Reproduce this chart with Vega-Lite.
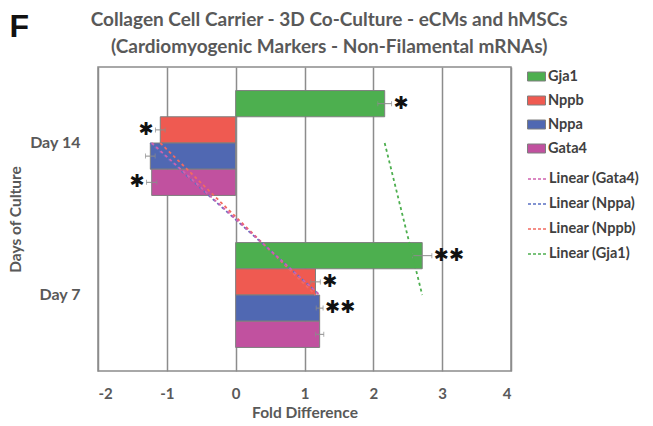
{
  "$schema": "https://vega.github.io/schema/vega-lite/v6.json",
  "width": 413,
  "height": 304,
  "autosize": {"type": "none"},
  "padding": {"left": 98, "top": 67, "right": 142, "bottom": 55},
  "background": "white",
  "config": {
    "view": {"stroke": "#8c8c8c", "strokeWidth": 1.5},
    "font": "Lato"
  },
  "title": {
    "text": ["Collagen Cell Carrier - 3D Co-Culture - eCMs and hMSCs", "(Cardiomyogenic Markers - Non-Filamental mRNAs)"],
    "font": "Lato",
    "fontSize": 19,
    "fontWeight": "bold",
    "color": "#595959",
    "anchor": "middle",
    "frame": "bounds",
    "offset": -44,
    "dx": 5,
    "dy": 3,
    "lineHeight": 27
  },
  "data": {
    "values": [
      {"day": "Day 14", "gene": "Gja1", "trend": "Linear (Gja1)", "value": 2.165, "lo": 2.065, "hi": 2.265, "sig": "✱"},
      {"day": "Day 14", "gene": "Nppb", "trend": "Linear (Nppb)", "value": -1.095, "lo": -1.165, "hi": -1.025, "sig": "✱"},
      {"day": "Day 14", "gene": "Nppa", "trend": "Linear (Nppa)", "value": -1.24, "lo": -1.31, "hi": -1.17, "sig": ""},
      {"day": "Day 14", "gene": "Gata4", "trend": "Linear (Gata4)", "value": -1.22, "lo": -1.295, "hi": -1.145, "sig": "✱"},
      {"day": "Day 7", "gene": "Gja1", "trend": "Linear (Gja1)", "value": 2.71, "lo": 2.57, "hi": 2.85, "sig": "✱✱"},
      {"day": "Day 7", "gene": "Nppb", "trend": "Linear (Nppb)", "value": 1.16, "lo": 1.09, "hi": 1.23, "sig": "✱"},
      {"day": "Day 7", "gene": "Nppa", "trend": "Linear (Nppa)", "value": 1.22, "lo": 1.17, "hi": 1.27, "sig": "✱✱"},
      {"day": "Day 7", "gene": "Gata4", "trend": "Linear (Gata4)", "value": 1.22, "lo": 1.16, "hi": 1.28, "sig": ""}
    ]
  },
  "encoding": {
    "y": {
      "field": "day",
      "type": "nominal",
      "sort": ["Day 14", "Day 7"],
      "scale": {"paddingInner": 0.31, "paddingOuter": 0.155},
      "axis": {
        "title": "Days of Culture",
        "titleFont": "Lato",
        "titleFontSize": 15.5,
        "titleFontWeight": "bold",
        "titleColor": "#595959",
        "titlePadding": 6,
        "labelFont": "Lato",
        "labelFontSize": 16,
        "labelFontWeight": "bold",
        "labelColor": "#595959",
        "labelPadding": 18,
        "ticks": false,
        "domain": false,
        "grid": false
      }
    }
  },
  "layer": [
    {
      "layer": [
        {
          "mark": {"type": "bar", "stroke": "#7f7f7f", "strokeWidth": 1},
          "encoding": {
            "yOffset": {"field": "gene", "type": "nominal", "sort": ["Gja1", "Nppb", "Nppa", "Gata4"], "scale": {"paddingInner": 0, "paddingOuter": 0}},
            "x": {"field": "value", "type": "quantitative"},
            "fill": {
              "field": "gene",
              "type": "nominal",
              "scale": {"domain": ["Gja1", "Nppb", "Nppa", "Gata4"], "range": ["#4DAF4F", "#EF5A51", "#5068B2", "#C1519F"]},
              "legend": {
                "orient": "none",
                "legendX": 429,
                "legendY": 0,
                "title": null,
                "symbolType": "M-1,-0.5H1V0.5H-1Z",
                "symbolSize": 324,
                "symbolStrokeColor": "#7f7f7f",
                "symbolStrokeWidth": 1,
                "labelFont": "Lato",
                "labelFontSize": 14.5,
                "labelFontWeight": "bold",
                "labelColor": "#404040",
                "labelOffset": 2,
                "rowPadding": 8
              }
            }
          }
        }
      ],
      "encoding": {
        "x": {
          "type": "quantitative",
          "scale": {"domain": [-2, 4], "nice": false, "zero": false},
          "axis": {
            "orient": "bottom",
            "values": [-2, -1, 0, 1, 2, 3, 4],
            "labelExpr": "datum.value < 0 ? '-' + abs(datum.value) : '' + datum.value",
            "grid": true,
            "gridColor": "#8c8c8c",
            "gridWidth": 1.5,
            "ticks": false,
            "domain": false,
            "labelFont": "Lato",
            "labelFontSize": 15,
            "labelFontWeight": "bold",
            "labelColor": "#595959",
            "labelPadding": 15,
            "title": "Fold Difference",
            "titleFont": "Lato",
            "titleFontSize": 15.5,
            "titleFontWeight": "bold",
            "titleColor": "#595959",
            "titlePadding": 4
          }
        }
      }
    },
    {
      "layer": [
        {
          "mark": {"type": "rule", "color": "#8c8c8c", "strokeWidth": 1},
          "encoding": {
            "yOffset": {"field": "gene", "type": "nominal", "sort": ["Gja1", "Nppb", "Nppa", "Gata4"], "scale": {"paddingInner": 0, "paddingOuter": 0}},
            "x": {"field": "lo", "type": "quantitative"},
            "x2": {"field": "hi"}
          }
        },
        {
          "mark": {"type": "tick", "color": "#8c8c8c", "thickness": 1, "size": 5},
          "encoding": {
            "yOffset": {"field": "gene", "type": "nominal", "sort": ["Gja1", "Nppb", "Nppa", "Gata4"], "scale": {"paddingInner": 0, "paddingOuter": 0}},
            "x": {"field": "hi", "type": "quantitative"}
          }
        },
        {
          "mark": {"type": "tick", "color": "#8c8c8c", "thickness": 1, "size": 5},
          "encoding": {
            "yOffset": {"field": "gene", "type": "nominal", "sort": ["Gja1", "Nppb", "Nppa", "Gata4"], "scale": {"paddingInner": 0, "paddingOuter": 0}},
            "x": {"field": "lo", "type": "quantitative"}
          }
        },
        {
          "mark": {"type": "line", "strokeDash": [3, 3], "strokeWidth": 1.8},
          "encoding": {
            "x": {"field": "value", "type": "quantitative"},
            "stroke": {
              "field": "trend",
              "type": "nominal",
              "scale": {"domain": ["Linear (Gata4)", "Linear (Nppa)", "Linear (Nppb)", "Linear (Gja1)"], "range": ["#D062AE", "#5A70C2", "#F26A60", "#4DAF4F"]},
              "legend": {
                "orient": "none",
                "legendX": 429,
                "legendY": 102,
                "title": null,
                "symbolType": "stroke",
                "symbolSize": 324,
                "symbolDash": [3, 2],
                "symbolStrokeWidth": 1.5,
                "labelFont": "Lato",
                "labelFontSize": 14.5,
                "labelFontWeight": "bold",
                "labelColor": "#404040",
                "labelOffset": 2,
                "rowPadding": 8
              }
            }
          }
        },
        {
          "transform": [{"filter": "datum.sig != '' && datum.value > 0"}],
          "mark": {"type": "text", "align": "left", "baseline": "middle", "dx": 2, "font": "DejaVu Sans", "fontSize": 18, "fontWeight": "bold", "color": "#111111"},
          "encoding": {
            "yOffset": {"field": "gene", "type": "nominal", "sort": ["Gja1", "Nppb", "Nppa", "Gata4"], "scale": {"paddingInner": 0, "paddingOuter": 0}},
            "x": {"field": "hi", "type": "quantitative"},
            "text": {"field": "sig"}
          }
        },
        {
          "transform": [{"filter": "datum.sig != '' && datum.value < 0"}],
          "mark": {"type": "text", "align": "right", "baseline": "middle", "dx": -2, "font": "DejaVu Sans", "fontSize": 18, "fontWeight": "bold", "color": "#111111"},
          "encoding": {
            "yOffset": {"field": "gene", "type": "nominal", "sort": ["Gja1", "Nppb", "Nppa", "Gata4"], "scale": {"paddingInner": 0, "paddingOuter": 0}},
            "x": {"field": "lo", "type": "quantitative"},
            "text": {"field": "sig"}
          }
        }
      ],
      "encoding": {
        "x": {
          "type": "quantitative",
          "axis": {
            "orient": "top",
            "labels": false,
            "ticks": false,
            "domain": false,
            "grid": false,
            "title": "F",
            "titleFont": "Liberation Sans",
            "titleFontSize": 32,
            "titleFontWeight": "bold",
            "titleColor": "#111111",
            "titleX": -89,
            "titleY": -31,
            "titleAlign": "left",
            "titleBaseline": "alphabetic",
            "titleAngle": 0
          }
        }
      }
    }
  ],
  "resolve": {"axis": {"x": "independent"}}
}
